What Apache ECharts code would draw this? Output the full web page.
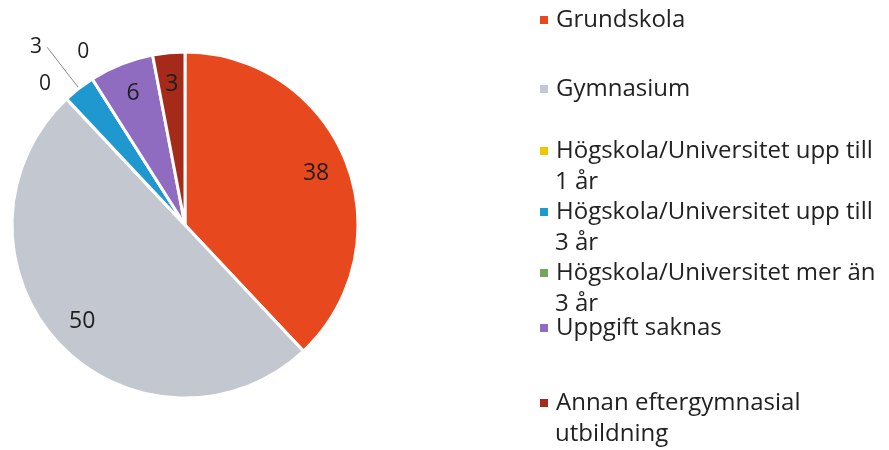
<!DOCTYPE html>
<html><head><meta charset="utf-8">
<script src="https://cdn.jsdelivr.net/npm/echarts@6/dist/echarts.min.js"></script>
<style>html,body{margin:0;padding:0;background:#fff}#c{width:889px;height:450px}</style>
</head><body><div id="c"></div>
<script>
const categories = ['Grundskola', 'Gymnasium', 'Högskola/Universitet upp till 1 år', 'Högskola/Universitet upp till 3 år', 'Högskola/Universitet mer än 3 år', 'Uppgift saknas', 'Annan eftergymnasial utbildning'];
const values = [38, 50, 0, 3, 0, 6, 3];
const legendLabels = ['Grundskola', 'Gymnasium', 'Högskola/Universitet upp till\n1 år', 'Högskola/Universitet upp till\n3 år', 'Högskola/Universitet mer än\n3 år', 'Uppgift saknas', 'Annan eftergymnasial\nutbildning'];
const colors = ['#E8481D', '#C2C7D0', '#F0C800', '#1F98CF', '#72A85E', '#8F6CBF', '#A52A1A'];

const FONT = 'Open Sans';
const LH = 31;
const legendCenters = [20, 89, 151, 212, 273, 328, 403];

// per-item outside label settings for the small/zero slices (layout only)
const outsideCfg = {
  2: { len: 20, dist: 2, line: false },
  3: { len: 52, dist: 5, line: true },
  4: { len: 32, dist: -14, line: false }
};

const mainData = categories.map((name, i) => {
  const d = { name: name, value: values[i], itemStyle: { color: colors[i] } };
  const o = outsideCfg[i];
  if (o) {
    d.label = { show: true, position: 'outside', distanceToLabelLine: o.dist };
    d.labelLine = { show: o.line, length: o.len, length2: 0, lineStyle: { color: '#8a8a8a', width: 1 } };
  }
  return d;
});

const labelData = categories.map((name, i) => ({
  name: name, value: values[i],
  label: { show: values[i] > 0 && !outsideCfg[i] }
}));

const legends = [];
categories.forEach((name, i) => {
  const lines = legendLabels[i].split('\n');
  lines.forEach((ln, k) => {
    const lg = {
      data: [name],
      left: 538,
      top: legendCenters[i] + k * LH - 16,
      orient: 'vertical',
      padding: 0,
      itemWidth: 10,
      itemHeight: 10,
      icon: 'rect',
      selectedMode: false,
      formatter: () => ln,
      textStyle: { fontFamily: FONT, fontSize: 24, color: '#222', lineHeight: 32, padding: [0, 0, 0, 2] }
    };
    if (k > 0) lg.itemStyle = { color: 'rgba(0,0,0,0)', borderWidth: 0 };
    legends.push(lg);
  });
});

const chart = echarts.init(document.getElementById('c'), null, { renderer: 'canvas' });
chart.setOption({
  backgroundColor: '#ffffff',
  animation: false,
  legend: legends,
  series: [
    {
      type: 'pie',
      center: [185, 225],
      radius: [0, 173],
      startAngle: 90,
      clockwise: true,
      avoidLabelOverlap: false,
      silent: true,
      itemStyle: { borderColor: '#ffffff', borderWidth: 3 },
      label: { show: false, fontFamily: FONT, fontSize: 21, color: '#1e1e1e', formatter: '{c}' },
      labelLine: { show: false },
      data: mainData
    },
    {
      type: 'pie',
      center: [185, 225],
      radius: [100, 176],
      startAngle: 90,
      clockwise: true,
      silent: true,
      avoidLabelOverlap: false,
      itemStyle: { color: 'rgba(0,0,0,0)', borderWidth: 0 },
      label: { position: 'inside', fontFamily: FONT, fontSize: 23, color: '#1e1e1e', formatter: '{c}' },
      labelLine: { show: false },
      data: labelData
    }
  ]
});
</script>
</body></html>
